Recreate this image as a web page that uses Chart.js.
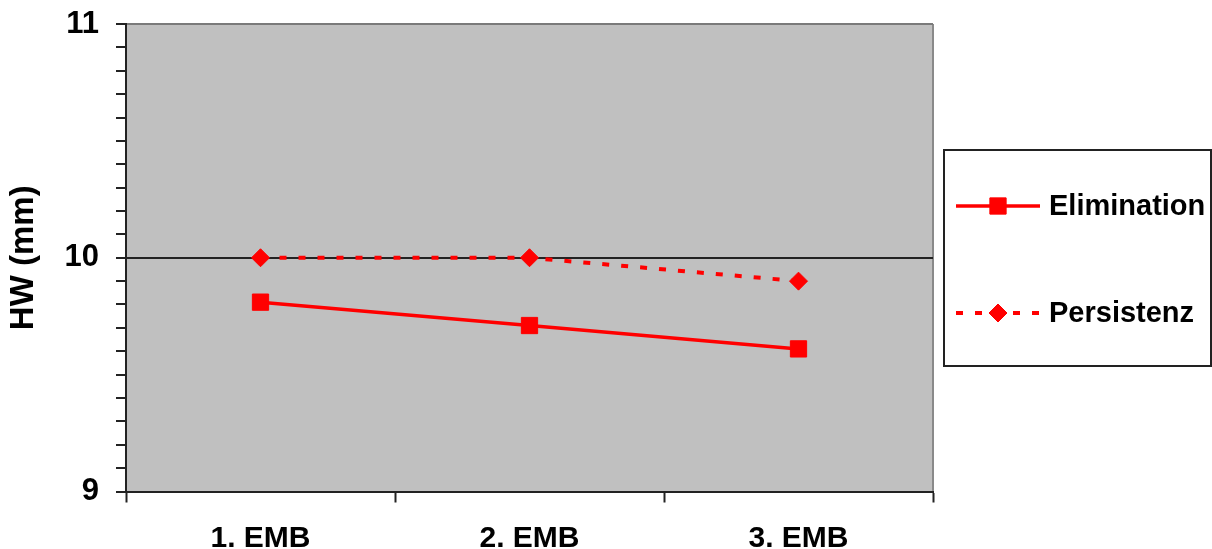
<!DOCTYPE html>
<html>
<head>
<meta charset="utf-8">
<script src="https://cdn.jsdelivr.net/npm/chart.js@4"></script>
<style>
    html, body { margin: 0; padding: 0; background: #fff; }
    #wrap { width: 1212px; height: 549px; }
</style>
</head>
<body>
<div id="wrap"><canvas id="hwChart" width="1212" height="549"></canvas></div>
<script>
const labels = ['1. EMB', '2. EMB', '3. EMB'];
const elimination = [9.81, 9.71, 9.61];
const persistenz = [10.0, 10.0, 9.9];

const FONT = '"Liberation Sans", Arial, Helvetica, sans-serif';
const RED = '#ff0000';

// grey plot area with the thin grey frame on the right
const plotBackground = {
    id: 'plotBackground',
    beforeDraw(chart) {
        const { ctx, chartArea: a } = chart;
        ctx.save();
        ctx.fillStyle = '#c0c0c0';
        ctx.fillRect(a.left, a.top, a.right - a.left, a.bottom - a.top);
        ctx.strokeStyle = '#8a8a8a';
        ctx.lineWidth = 2;
        ctx.beginPath();
        ctx.moveTo(a.right, a.top);
        ctx.lineTo(a.right, a.bottom);
        ctx.stroke();
        ctx.restore();
    }
};

// boxed legend on the right, line + marker sample per dataset
const boxLegend = {
    id: 'boxLegend',
    afterDraw(chart) {
        const { ctx } = chart;
        const rows = [206, 313];
        ctx.save();
        ctx.strokeStyle = '#222';
        ctx.lineWidth = 2;
        ctx.strokeRect(944, 150, 267, 216);
        chart.data.datasets.forEach((ds, i) => {
            const y = rows[i];
            ctx.save();
            ctx.strokeStyle = ds.borderColor;
            ctx.lineWidth = ds.borderWidth;
            ctx.setLineDash(ds.borderDash || []);
            ctx.beginPath();
            ctx.moveTo(956, y);
            ctx.lineTo(1040, y);
            ctx.stroke();
            ctx.restore();
            ctx.fillStyle = ds.pointBackgroundColor;
            ctx.strokeStyle = ds.pointBorderColor;
            ctx.lineWidth = 1;
            Chart.helpers.drawPoint(ctx, {
                pointStyle: ds.pointStyle,
                radius: ds.pointRadius,
                rotation: 0,
                borderWidth: 1
            }, 998, y);
            ctx.fillStyle = '#000';
            ctx.font = 'bold 29px ' + FONT;
            ctx.textBaseline = 'middle';
            ctx.textAlign = 'left';
            ctx.fillText(ds.label, 1049, y + 1);
        });
        ctx.restore();
    }
};

new Chart(document.getElementById('hwChart'), {
    type: 'line',
    data: {
        labels,
        datasets: [
            {
                label: 'Elimination',
                data: elimination,
                borderColor: RED,
                borderWidth: 3.5,
                pointStyle: 'rect',
                pointRadius: 11.5,
                pointBackgroundColor: RED,
                pointBorderColor: RED,
                pointBorderWidth: 1,
                tension: 0
            },
            {
                label: 'Persistenz',
                data: persistenz,
                borderColor: RED,
                borderWidth: 4,
                borderDash: [7, 12],
                pointStyle: 'rectRot',
                pointRadius: 9,
                pointBackgroundColor: RED,
                pointBorderColor: RED,
                pointBorderWidth: 1,
                tension: 0
            }
        ]
    },
    options: {
        responsive: false,
        animation: false,
        events: [],
        layout: { padding: { left: 0, right: 279, top: 24, bottom: 0 } },
        plugins: {
            legend: { display: false },
            tooltip: { enabled: false }
        },
        scales: {
            x: {
                offset: true,
                grid: {
                    offset: true,
                    drawOnChartArea: false,
                    tickLength: 11,
                    tickColor: '#222',
                    tickWidth: 2
                },
                border: { display: true, color: '#222', width: 2 },
                ticks: {
                    color: '#000',
                    padding: 18,
                    maxRotation: 0,
                    font: { family: FONT, size: 30, weight: 'bold' }
                },
                afterFit(scale) {
                    scale.height = 57.5;
                    scale.paddingLeft = 0;
                    scale.paddingRight = 0;
                }
            },
            y: {
                min: 9,
                max: 11,
                ticks: {
                    stepSize: 0.1,
                    autoSkip: false,
                    maxTicksLimit: 30,
                    color: '#000',
                    padding: 17,
                    font: { family: FONT, size: 31, weight: 'bold' },
                    callback: v => (Math.abs(v - Math.round(v)) < 1e-6 ? String(Math.round(v)) : '')
                },
                grid: {
                    color: c => {
                        const v = c.tick ? Math.round(c.tick.value * 10) / 10 : null;
                        if (v === 10) return '#222';
                        if (v === 11) return '#7a7a7a';
                        return 'rgba(0,0,0,0)';
                    },
                    lineWidth: 2,
                    tickLength: 10,
                    tickColor: '#222',
                    tickWidth: 2
                },
                border: { display: true, color: '#222', width: 2 },
                title: {
                    display: true,
                    text: 'HW (mm)',
                    color: '#000',
                    padding: { top: 7, bottom: 0 },
                    font: { family: FONT, size: 33, weight: 'bold', lineHeight: 1 }
                },
                afterFit(scale) {
                    scale.width = 126;
                    scale.paddingTop = 0;
                    scale.paddingBottom = 0;
                }
            }
        }
    },
    plugins: [plotBackground, boxLegend]
});
</script>
</body>
</html>
